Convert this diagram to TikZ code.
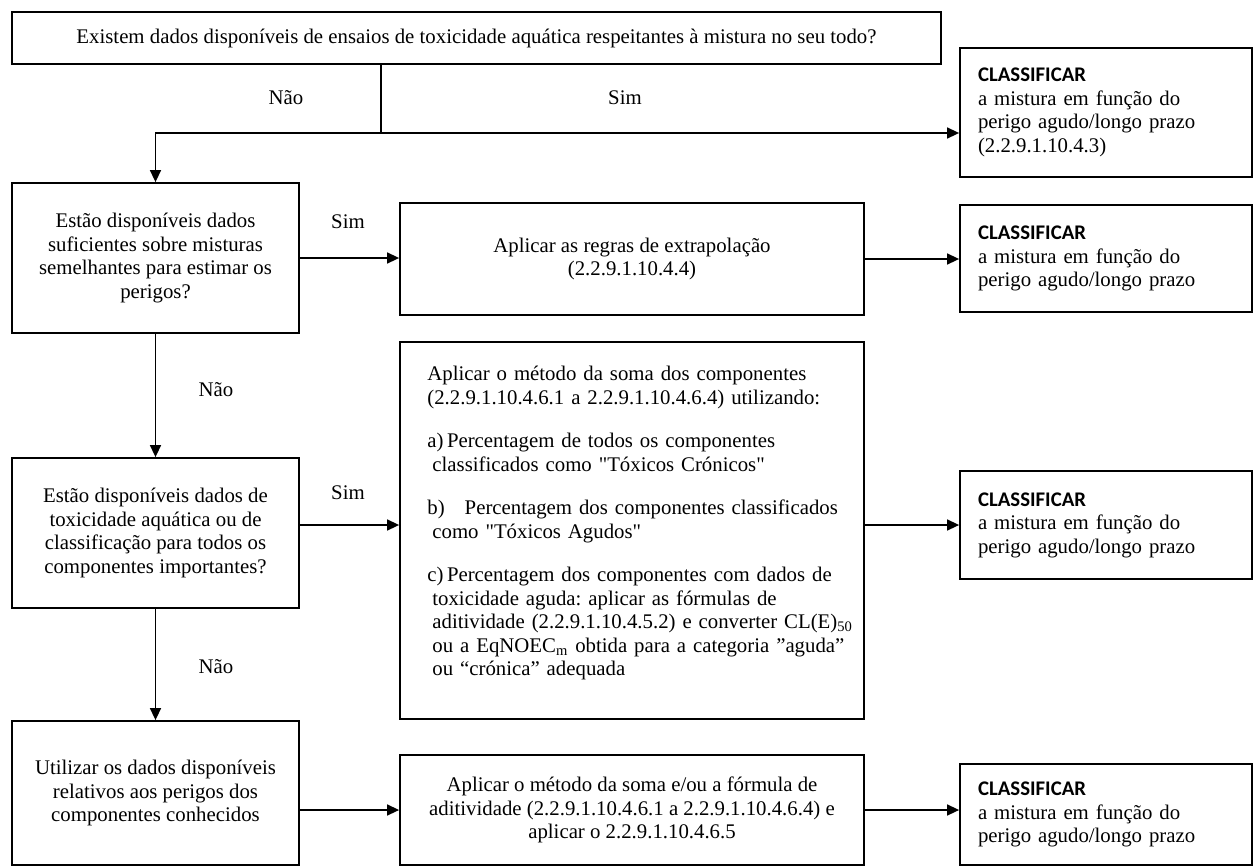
\documentclass[tikz,border=0pt]{standalone}
\usepackage{fontspec}
\setmainfont{Liberation Serif}
\newfontfamily\clsfont{Carlito}
\usetikzlibrary{arrows.meta,calc}
\begin{document}
\frenchspacing
\begin{tikzpicture}[x=0.5pt,y=-0.5pt,
  txt/.style={font=\fontsize{10.4}{11.75}\selectfont},
  box/.style={txt,draw,line width=0.9pt,inner sep=0pt,align=center},
  cbox/.style={txt,draw,line width=0.9pt,inner xsep=9pt,inner ysep=0pt,text width=128pt,minimum width=146pt,align=left},
  conn/.style={line width=0.75pt},
  arr/.style={conn,-{Triangle[length=6pt,width=5.5pt]}},
  lbl/.style={txt,inner sep=0pt}]
\useasboundingbox (0,0) rectangle (1257,867);

% boxes
\node[box,minimum width=464.5pt,minimum height=26pt] (top) at (476.5,38)
  {Existem dados disponíveis de ensaios de toxicidade aquática respeitantes à mistura no seu todo?};
\node[cbox,minimum height=64.5pt] (c1) at (1106,112.5)
  {{\clsfont\bfseries CLASSIFICAR}\\a mistura em função do\\perigo agudo/longo prazo\\(2.2.9.1.10.4.3)};

\node[box,minimum width=143.5pt,minimum height=75pt] (b2) at (155.5,258)
  {Estão disponíveis dados\\suficientes sobre misturas\\semelhantes para estimar os\\perigos?};
\node[box,minimum width=232pt,minimum height=56pt] (r2) at (632,259)
  {Aplicar as regras de extrapolação\\(2.2.9.1.10.4.4)};
\node[cbox,minimum height=53.5pt] (c2) at (1106,258.5)
  {{\clsfont\bfseries CLASSIFICAR}\\a mistura em função do\\perigo agudo/longo prazo};

\node[box,minimum width=143.5pt,minimum height=75pt] (b3) at (155.5,533)
  {Estão disponíveis dados de\\toxicidade aquática ou de\\classificação para todos os\\componentes importantes?};
\node[draw,line width=0.9pt,minimum width=232pt,minimum height=188.5pt,inner sep=0pt] (big) at (632,530.5) {};
\node[txt,anchor=north west,inner sep=0pt,text width=214pt,align=left] (bigtext) at (427,366)
  {Aplicar o método da soma dos componentes\\
   (2.2.9.1.10.4.6.1 a 2.2.9.1.10.4.6.4) utilizando:\\[10pt]
   a)\,Percentagem de todos os componentes\\
   \hspace*{2.5pt}classificados como \textquotedbl Tóxicos Crónicos\textquotedbl\\[10pt]
   b)\hspace{10pt}Percentagem dos componentes classificados\\
   \hspace*{2.5pt}como \textquotedbl Tóxicos Agudos\textquotedbl\\[10pt]
   c)\,Percentagem dos componentes com dados de\\
   \hspace*{2.5pt}toxicidade aguda: aplicar as fórmulas de\\
   \hspace*{2.5pt}aditividade (2.2.9.1.10.4.5.2) e converter CL(E)\textsubscript{50}\\
   \hspace*{2.5pt}ou a EqNOEC\textsubscript{m} obtida para a categoria ”aguda”\\
   \hspace*{2.5pt}ou “crónica” adequada};
\node[cbox,minimum height=54pt] (c3) at (1106,525)
  {{\clsfont\bfseries CLASSIFICAR}\\a mistura em função do\\perigo agudo/longo prazo};

\node[box,minimum width=143.5pt,minimum height=72pt] (b4) at (155.5,793)
  {Utilizar os dados disponíveis\\relativos aos perigos dos\\componentes conhecidos};
\node[box,minimum width=232pt,minimum height=55pt] (m4) at (632,810)
  {Aplicar o método da soma e/ou a fórmula de\\aditividade (2.2.9.1.10.4.6.1 a 2.2.9.1.10.4.6.4) e\\aplicar o 2.2.9.1.10.4.6.5};
\node[cbox,minimum height=50.5pt] (c4) at (1106,814.5)
  {{\clsfont\bfseries CLASSIFICAR}\\a mistura em função do\\perigo agudo/longo prazo};

% labels
\node[lbl] (n1) at (286,98) {Não};
\node[lbl] (s1) at (625,98) {Sim};
\node[lbl] (s2) at (348,222) {Sim};
\node[lbl] (n2) at (216,390) {Não};
\node[lbl] (s3) at (348,493) {Sim};
\node[lbl] (n3) at (216,667) {Não};

% connectors
\coordinate (j) at (381,133);
\draw[conn] (top.south -| j) -- (j);
\draw[arr] (j) -- (j -| c1.west);
\draw[arr] (j) -| (b2.north);
\draw[arr] (b2.east) -- (b2.east -| r2.west);
\draw[arr] (r2.east) -- (r2.east -| c2.west);
\draw[arr] (b2.south) -- (b3.north);
\draw[arr] ([yshift=4pt]b3.east) -- ([yshift=4pt]b3.east -| big.west);
\draw[arr] (c3.west -| big.east) -- (c3.west);
\draw[arr] (b3.south) -- (b4.north);
\draw[arr] (b4.east |- m4.west) -- (m4.west);
\draw[arr] (m4.east) -- (m4.east -| c4.west);
\end{tikzpicture}
\end{document}
